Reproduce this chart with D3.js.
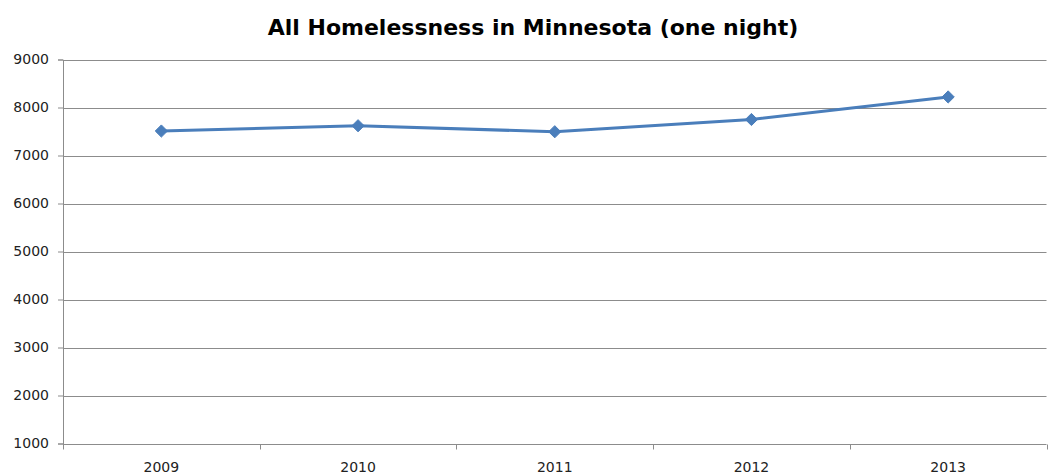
<!DOCTYPE html>
<html>
<head>
<meta charset="utf-8">
<script src="https://cdn.jsdelivr.net/npm/d3@7"></script>
<style>
  html, body { margin: 0; padding: 0; background: #fff; }
  svg { display: block; }
</style>
</head>
<body>
<svg id="chart" width="1048" height="473"></svg>
<script>
// Homelessness counts for a single night, by year
const years = ["2009", "2010", "2011", "2012", "2013"];
const counts = [7510, 7620, 7495, 7750, 8220];
const yTicks = [1000, 2000, 3000, 4000, 5000, 6000, 7000, 8000, 9000];
const title = "All Homelessness in Minnesota (one night)";

const svg = d3.select("#chart");
const margin = { left: 63, right: 1.5, top: 59.5, bottom: 29.5 };
const W = 1048, H = 473;
const fontFam = "'DejaVu Sans', sans-serif";

const x = d3.scaleBand().domain(years).range([margin.left, W - margin.right]);
const y = d3.scaleLinear().domain([1000, 9000]).range([H - margin.bottom, margin.top]);

// title
svg.append("text")
  .attr("x", 533).attr("y", 35)
  .attr("text-anchor", "middle")
  .attr("font-family", fontFam)
  .attr("font-weight", "bold")
  .attr("font-size", 22)
  .attr("fill", "#000")
  .text(title);

// horizontal gridlines
svg.append("g")
  .selectAll("line")
  .data(yTicks.slice(1))
  .join("line")
  .attr("x1", margin.left).attr("x2", W - margin.right)
  .attr("y1", d => Math.round(y(d)) + 0.5).attr("y2", d => Math.round(y(d)) + 0.5)
  .attr("stroke", "#8c8c8c").attr("stroke-width", 1);

// y axis
const yAxis = svg.append("g")
  .attr("transform", `translate(${margin.left},0)`)
  .call(d3.axisLeft(y).tickValues(yTicks).tickSize(5).tickPadding(9).tickFormat(d3.format("d")));
yAxis.select(".domain").attr("stroke", "#8c8c8c");
yAxis.selectAll(".tick line").attr("stroke", "#8c8c8c");
yAxis.selectAll("text").attr("font-family", fontFam).attr("font-size", 14).attr("fill", "#222");

// x axis with ticks between categories
const xAxisG = svg.append("g")
  .attr("transform", `translate(0,${Math.round(y(1000)) + 0.5})`);
xAxisG.append("line")
  .attr("x1", margin.left).attr("x2", W - margin.right)
  .attr("stroke", "#8c8c8c");
const edges = years.map(d => x(d)).concat([x(years[years.length - 1]) + x.bandwidth()]);
xAxisG.selectAll("line.edge")
  .data(edges)
  .join("line")
  .attr("class", "edge")
  .attr("x1", d => Math.round(d) + 0.5).attr("x2", d => Math.round(d) + 0.5)
  .attr("y1", 0).attr("y2", 5)
  .attr("stroke", "#8c8c8c");
xAxisG.selectAll("text")
  .data(years)
  .join("text")
  .attr("x", d => x(d) + x.bandwidth() / 2)
  .attr("y", 27)
  .attr("text-anchor", "middle")
  .attr("font-family", fontFam)
  .attr("font-size", 14)
  .attr("fill", "#222")
  .text(d => d);

// data line
const pts = years.map((d, i) => [x(d) + x.bandwidth() / 2, y(counts[i])]);
svg.append("path")
  .attr("d", d3.line()(pts))
  .attr("fill", "none")
  .attr("stroke", "#4a7ebb")
  .attr("stroke-width", 3)
  .attr("stroke-linejoin", "round");

// diamond markers
svg.append("g")
  .selectAll("path")
  .data(pts)
  .join("path")
  .attr("transform", d => `translate(${d[0]},${d[1]})`)
  .attr("d", d3.symbol().type(d3.symbolDiamond2).size(95))
  .attr("fill", "#4a7ebb")
  .attr("stroke", "#4a7ebb")
  .attr("stroke-width", 1);
</script>
</body>
</html>
